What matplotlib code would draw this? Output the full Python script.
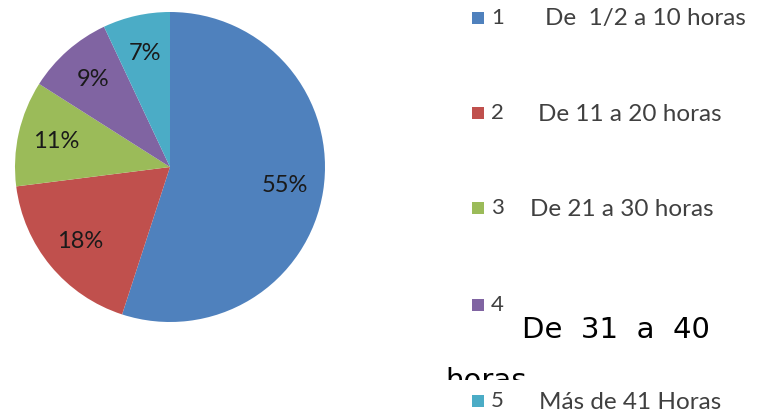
import matplotlib
matplotlib.use("Agg")
import matplotlib.pyplot as plt
from matplotlib.transforms import Bbox

plt.rcParams['font.family'] = ['Lato', 'DejaVu Sans']

# data
values = [55, 18, 11, 9, 7]
codes = ['1', '2', '3', '4', '5']
labels = ['De  1/2 a 10 horas', 'De 11 a 20 horas', 'De 21 a 30 horas',
          'De  31  a  40', 'Más de 41 Horas']
colors = ['#4f81bd', '#c0504d', '#9bbb59', '#8064a2', '#4bacc6']

W, H = 772, 411
fig = plt.figure(figsize=(W / 100, H / 100), dpi=100)

# pie, centre ~ (170, 167) px, radius ~155 px
r = 155
cx, cy = 170, 167
ax = fig.add_axes([(cx - r) / W, (H - cy - r) / H, 2 * r / W, 2 * r / H])
ax.pie(values, colors=colors, startangle=90, counterclock=False,
       autopct='%d%%', pctdistance=0.75, radius=1,
       wedgeprops=dict(linewidth=0),
       textprops=dict(fontsize=17, color='#1a1a1a'))
ax.set_xlim(-1, 1)
ax.set_ylim(-1, 1)
ax.set_aspect('auto')

# legend area in pixel coordinates (y down)
lax = fig.add_axes([0, 0, 1, 1])
lax.set_xlim(0, W)
lax.set_ylim(H, 0)
lax.axis('off')

item_y = [18, 113, 208, 305, 401]
label_x = [545, 538, 530, 522, 539]

lax.scatter([478] * 5, item_y, marker='s', s=85, c=colors, linewidths=0)
for y, code in zip(item_y, codes):
    lax.text(491, y, code, fontsize=16, color='#404040', va='center', ha='left')

for i, (y, lab) in enumerate(zip(item_y, labels)):
    if i == 3:
        lax.text(label_x[i], 330, lab, fontsize=21, family='DejaVu Sans',
                 color='black', va='center', ha='left')
    else:
        lax.text(label_x[i], y + 1, lab, fontsize=17.5, color='#404040',
                 va='center', ha='left')

# wrapped remainder of label 4, cut off by the next item
t = fig.text(445 / W, (H - 389) / H, 'horas', fontsize=21, family='DejaVu Sans',
             color='black', va='baseline', ha='left')
t.set_clip_box(Bbox.from_extents(430, H - 380, 700, H - 345))
t.set_clip_on(True)

fig.savefig('out.png', dpi=100)
